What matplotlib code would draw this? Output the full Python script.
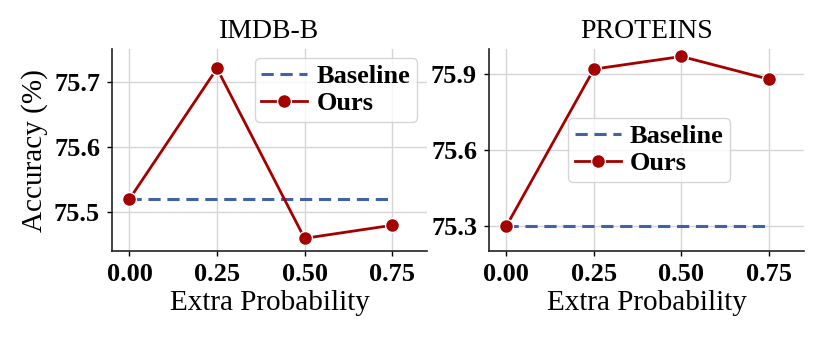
import matplotlib
matplotlib.use('Agg')
from matplotlib import pyplot as plt

plt.rcParams['font.family'] = ['Liberation Serif', 'DejaVu Serif']

probs = [0.00, 0.25, 0.50, 0.75]
titles = ['IMDB-B', 'PROTEINS']
ours = [[75.52, 75.72, 75.46, 75.48],
        [75.30, 75.92, 75.97, 75.88]]
baseline = [75.52, 75.30]
yticks = [[75.5, 75.6, 75.7], [75.3, 75.6, 75.9]]
ylims = [(75.44, 75.75), (75.20, 76.00)]

blue = '#4262a8'
red = '#a50000'

fig = plt.figure(figsize=(8.23, 3.37), dpi=100)
boxes = [[0.136, 0.254, 0.383, 0.601], [0.594, 0.254, 0.383, 0.601]]
# legend placement differs per panel
legend_locs = [('upper right', (0.968, 0.955)), ('lower left', (0.251, 0.343))]

for i in range(2):
    ax = fig.add_axes(boxes[i])
    ax.grid(True, color='#d5d5d5', linewidth=1.0)
    ax.set_axisbelow(True)
    ax.plot(probs, [baseline[i]] * len(probs), '--', color=blue, lw=2.2,
            dashes=(4, 2.2), label='Baseline')
    ax.plot(probs, ours[i], '-o', color=red, lw=2.0, ms=10,
            markeredgecolor='white', markeredgewidth=1.0, label='Ours')
    ax.set_xlim(-0.05, 0.85)
    ax.set_ylim(*ylims[i])
    ax.set_xticks(probs)
    ax.set_xticklabels(['%.2f' % p for p in probs])
    ax.set_yticks(yticks[i])
    ax.set_yticklabels(['%.1f' % t for t in yticks[i]])
    for lab in ax.get_xticklabels() + ax.get_yticklabels():
        lab.set_fontweight('bold')
        lab.set_fontsize(19)
    ax.tick_params(length=3.5, width=1.0, pad=5)
    ax.spines['top'].set_visible(False)
    ax.spines['right'].set_visible(False)
    for s in ['left', 'bottom']:
        ax.spines[s].set_linewidth(1.2)
        ax.spines[s].set_color('#222222')
    ax.set_title(titles[i], fontsize=20, pad=8)
    ax.set_xlabel('Extra Probability', fontsize=21, labelpad=3)
    if i == 0:
        ax.set_ylabel('Accuracy (%)', fontsize=21, labelpad=4)
    loc, anchor = legend_locs[i]
    ax.legend(loc=loc, bbox_to_anchor=anchor,
              prop={'weight': 'bold', 'size': 19}, handlelength=1.75,
              handletextpad=0.35, borderpad=0.25, borderaxespad=0,
              labelspacing=0.15, framealpha=0.8, edgecolor='#cccccc')

fig.savefig('out.png', dpi=100)
